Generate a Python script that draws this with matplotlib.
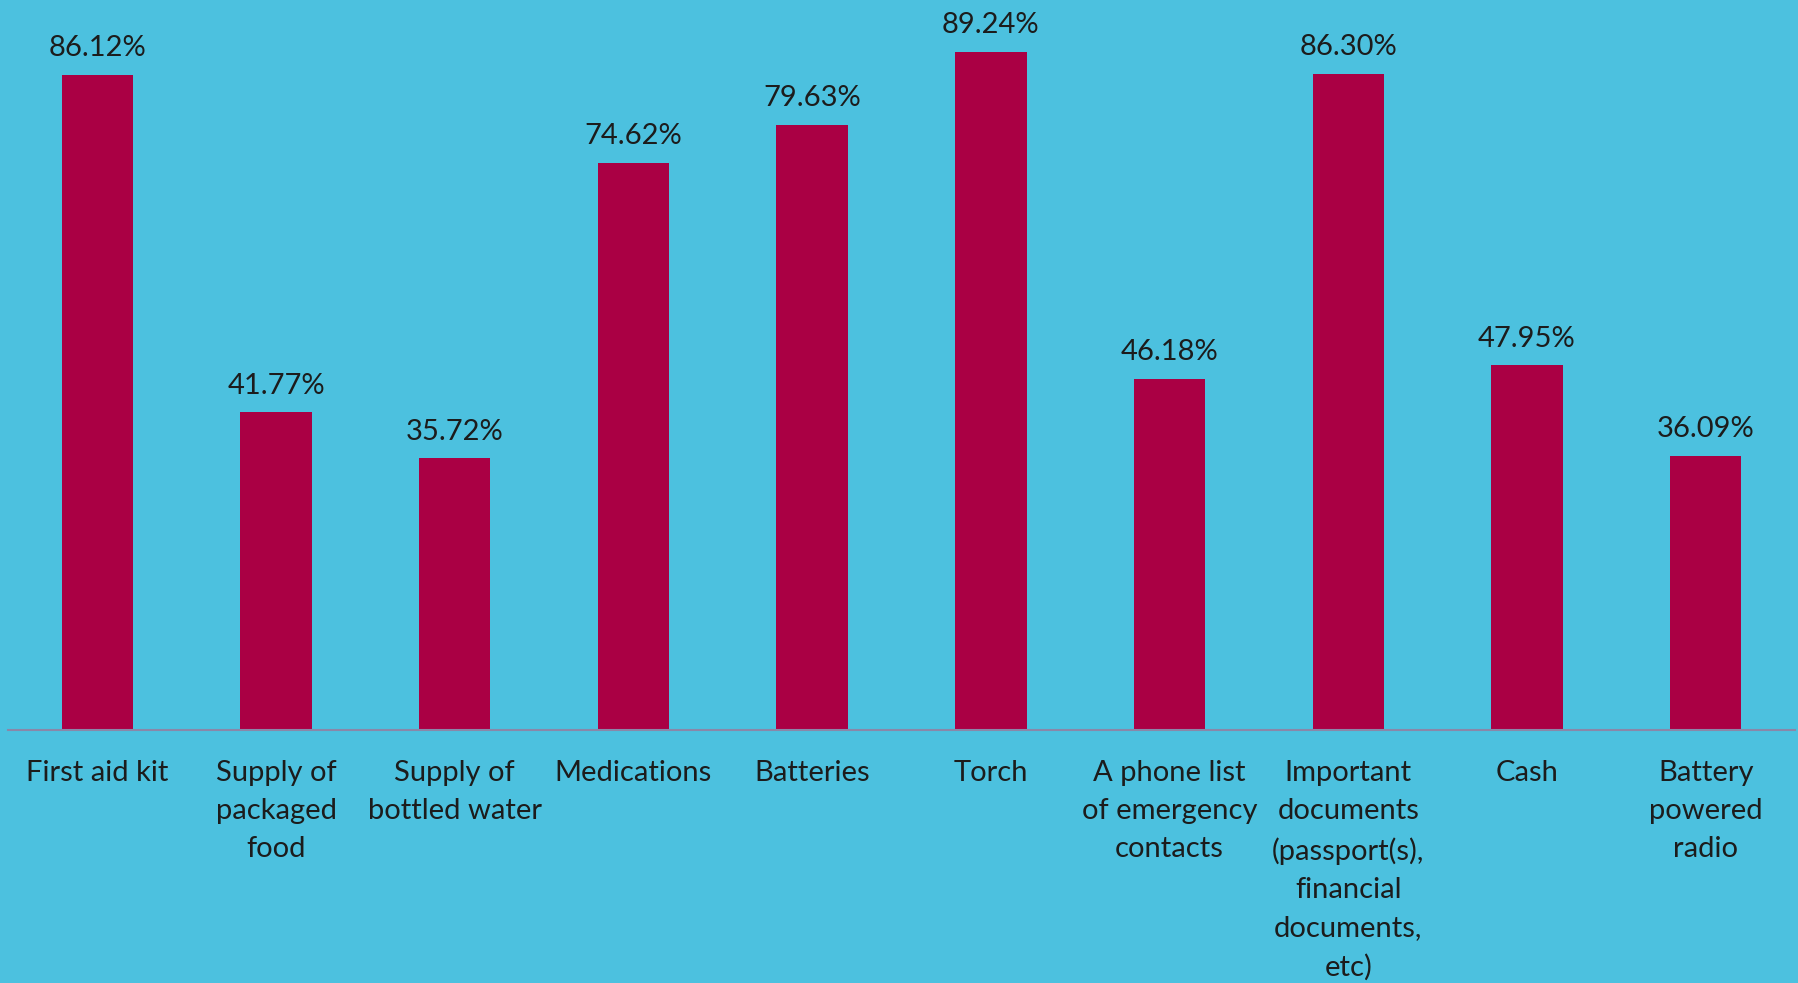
import matplotlib
matplotlib.use("Agg")
import matplotlib.pyplot as plt

categories = [
    "First aid kit",
    "Supply of\npackaged\nfood",
    "Supply of\nbottled water",
    "Medications",
    "Batteries",
    "Torch",
    "A phone list\nof emergency\ncontacts",
    "Important\ndocuments\n(passport(s),\nfinancial\ndocuments,\netc)",
    "Cash",
    "Battery\npowered\nradio",
]
values = [86.12, 41.77, 35.72, 74.62, 79.63, 89.24, 46.18, 86.30, 47.95, 36.09]

BG = "#4CC1DF"
BAR = "#AA0044"
TXT = "#1C1C1C"

plt.rcParams["font.family"] = ["Lato", "DejaVu Sans"]

W, H = 1798, 983
fig = plt.figure(figsize=(W / 100, H / 100), dpi=100, facecolor=BG)
ax = fig.add_axes([8 / W, (H - 730) / H, (1795 - 8) / W, 730 / H])
ax.set_facecolor(BG)

x = list(range(len(categories)))
bars = ax.bar(x, values, width=0.4, color=BAR, zorder=2)
ax.set_xlim(-0.5, len(categories) - 0.5)
ax.set_ylim(0, 96.03)

for xi, v in zip(x, values):
    ax.annotate(f"{v:.2f}%", (xi, v), xytext=(0, 10), textcoords="offset points",
                ha="center", va="bottom", fontsize=21, color=TXT)

ax.set_xticks(x)
ax.set_xticklabels(categories, fontsize=21, color=TXT, linespacing=1.58, va="top")
ax.tick_params(axis="x", length=0, pad=21.5)
ax.set_yticks([])
for s in ["top", "right", "left"]:
    ax.spines[s].set_visible(False)
ax.spines["bottom"].set_color("#8A87A8")
ax.spines["bottom"].set_linewidth(1.5)

fig.savefig("out.png", dpi=100, facecolor=BG)
